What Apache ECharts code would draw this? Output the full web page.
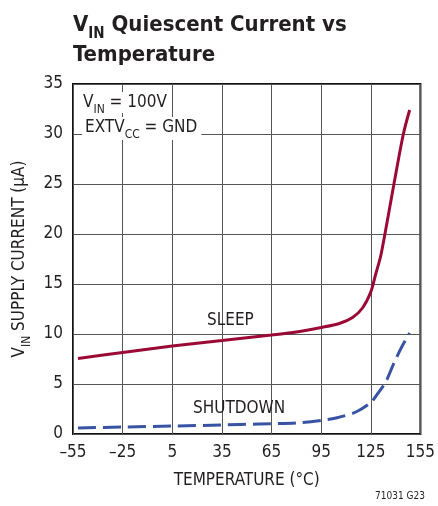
<!DOCTYPE html>
<html>
<head>
<meta charset="utf-8">
<script src="https://cdn.jsdelivr.net/npm/echarts@6/dist/echarts.min.js"></script>
<style>
html,body{margin:0;padding:0;background:#fff;}
#c{width:438px;height:506px;}
</style>
</head>
<body>
<div id="c"></div>
<script>
// Temperature (°C) and current (µA)
const sleepTemp  = [-52, -25, 5, 35, 65, 80, 95, 106, 114, 120, 125, 128, 131, 134, 139, 144.7, 148.5];
const sleepCurr  = [7.55, 8.15, 8.8, 9.35, 9.9, 10.2, 10.65, 11.05, 11.65, 12.6, 14.2, 16.0, 17.8, 20.4, 25.0, 30.0, 32.4];
const shutTemp   = [-52, -25, 5, 35, 57, 80, 95, 104, 116, 125, 129, 134, 139, 144, 148.5];
const shutCurr   = [0.6, 0.7, 0.8, 0.9, 1.0, 1.1, 1.35, 1.6, 2.2, 3.15, 4.0, 5.2, 7.1, 8.8, 10.1];
const xTicks = [-55, -25, 5, 35, 65, 95, 125, 155];
const yTicks = [0, 5, 10, 15, 20, 25, 30, 35];

const FONT = '"Liberation Sans Narrow", "DejaVu Sans Condensed", "Liberation Sans", sans-serif';
const TXT = '#231f20';

const chart = echarts.init(document.getElementById('c'), null, {renderer: 'canvas'});

const zip = (a, b) => a.map((v, i) => [v, b[i]]);

chart.setOption({
  animation: false,
  backgroundColor: '#fff',
  textStyle: {fontFamily: FONT, color: TXT},
  title: {
    left: 73, top: 10, padding: 0,
    text: '{b|V}{bs|IN}{b| Quiescent Current vs}\n{b|Temperature}',
    textStyle: {
      fontFamily: FONT,
      rich: {
        b: {fontFamily: FONT, fontWeight: 'bold', fontSize: 22, color: TXT, lineHeight: 30},
        bs: {fontFamily: FONT, fontWeight: 'bold', fontSize: 15, color: TXT, lineHeight: 30, verticalAlign: 'bottom', padding: [0, 0, -2, 0]}
      }
    }
  },
  grid: {left: 73, right: 13, top: 84, bottom: 72, show: true, borderColor: '#111', borderWidth: 2, containLabel: false},
  xAxis: {
    type: 'value', min: xTicks[0], max: xTicks[xTicks.length - 1], interval: 30,
    axisLine: {show: false}, axisTick: {show: false},
    splitLine: {show: true, lineStyle: {color: '#555', width: 1}},
    axisLabel: {fontFamily: FONT, fontSize: 17, color: TXT, margin: 10,
      formatter: v => (v < 0 ? '\u2013' + Math.abs(v) : String(v))},
    name: 'TEMPERATURE (°C)', nameLocation: 'middle', nameGap: 38,
    nameTextStyle: {fontFamily: FONT, fontSize: 17, color: TXT}
  },
  yAxis: {
    type: 'value', min: yTicks[0], max: yTicks[yTicks.length - 1], interval: 5,
    axisLine: {show: false}, axisTick: {show: false},
    splitLine: {show: true, lineStyle: {color: '#555', width: 1}},
    axisLabel: {fontFamily: FONT, fontSize: 17, color: TXT, margin: 10},
    name: '{n|V}{s|IN}{n| SUPPLY CURRENT (µA)}', nameLocation: 'middle', nameGap: 40, nameRotate: 90,
    nameTextStyle: {
      fontFamily: FONT,
      rich: {
        n: {fontFamily: FONT, fontSize: 17, color: TXT},
        s: {fontFamily: FONT, fontSize: 12, color: TXT, verticalAlign: 'bottom', padding: [0, 0, -5, 0]}
      }
    }
  },
  series: [
    {
      name: 'SLEEP', type: 'line', data: zip(sleepTemp, sleepCurr),
      smooth: 0.3, showSymbol: false,
      lineStyle: {color: '#9b0a35', width: 3}
    },
    {
      name: 'SHUTDOWN', type: 'line', data: zip(shutTemp, shutCurr),
      smooth: 0.3, showSymbol: false,
      lineStyle: {color: '#3853a4', width: 3, type: [18, 7]}
    }
  ],
  graphic: [
    {type: 'text', left: 80, top: 92, z: 100,
     style: {text: '{n|V}{s|IN}{n| = 100V}', backgroundColor: '#fff', padding: [2, 3, 2, 3],
       rich: {n: {fontFamily: FONT, fontSize: 17, fill: TXT}, s: {fontFamily: FONT, fontSize: 12, fill: TXT, verticalAlign: 'bottom', padding: [0, 0, -5, 0]}}}},
    {type: 'text', left: 82, top: 117, z: 100,
     style: {text: '{n|EXTV}{s|CC}{n| = GND}', backgroundColor: '#fff', padding: [2, 4, 4, 3],
       rich: {n: {fontFamily: FONT, fontSize: 17, fill: TXT}, s: {fontFamily: FONT, fontSize: 12, fill: TXT, verticalAlign: 'bottom', padding: [0, 0, -5, 0]}}}},
    {type: 'text', left: 207, top: 312, z: 100,
     style: {text: 'SLEEP', font: '17px ' + FONT, fill: TXT}},
    {type: 'text', left: 193, top: 400, z: 100,
     style: {text: 'SHUTDOWN', font: '17px ' + FONT, fill: TXT}},
    {type: 'text', right: 13, top: 491, z: 100,
     style: {text: '71031 G23', font: '10px ' + FONT, fill: TXT}}
  ]
});
</script>
</body>
</html>
